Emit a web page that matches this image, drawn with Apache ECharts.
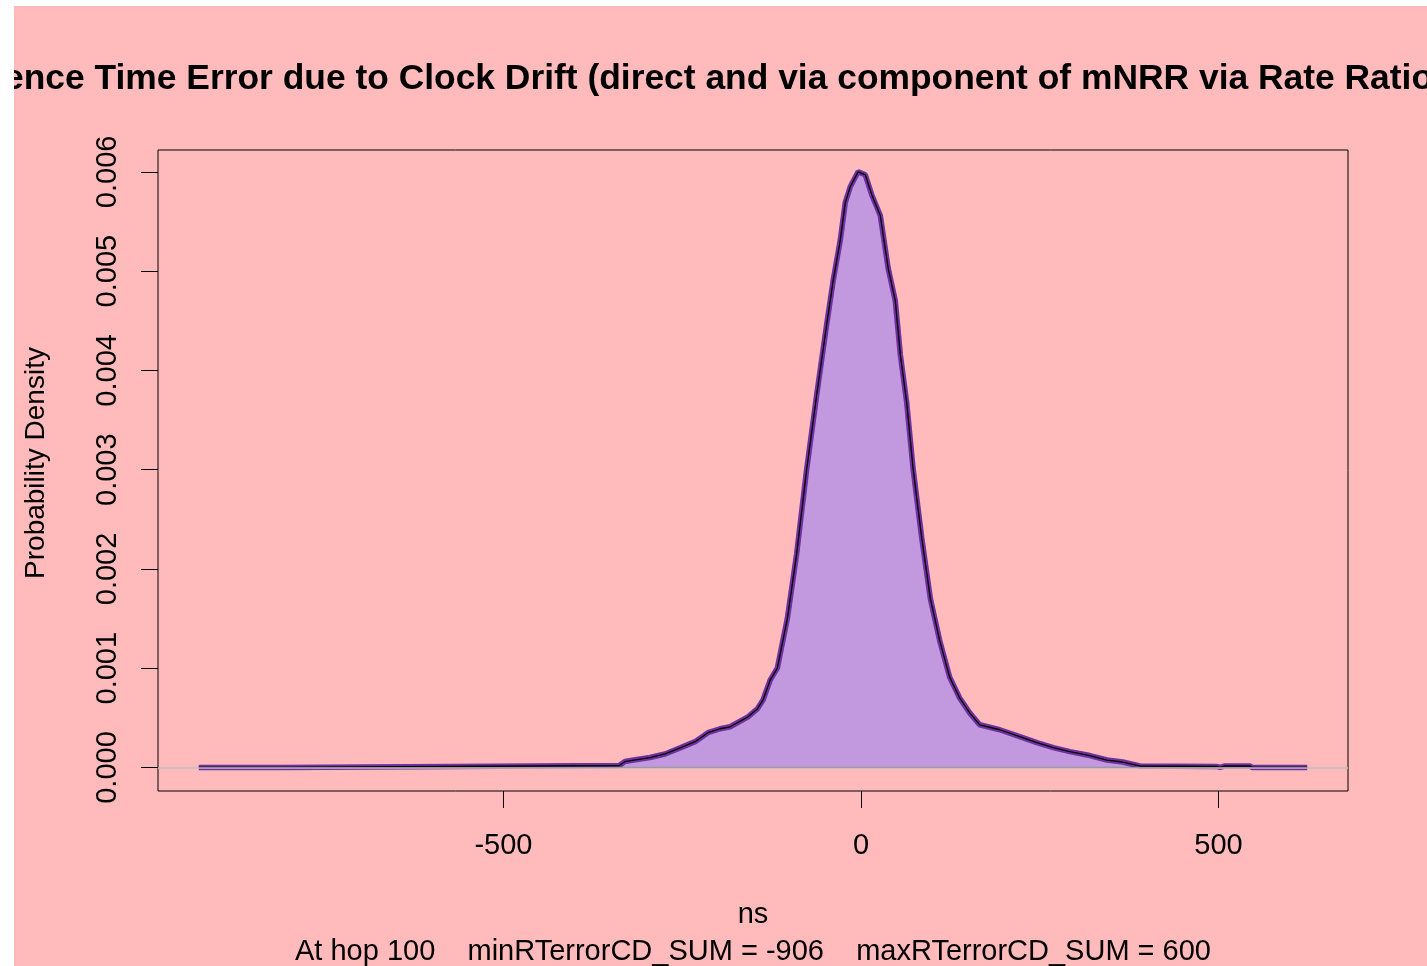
<!DOCTYPE html>
<html><head><meta charset="utf-8">
<script src="https://cdn.jsdelivr.net/npm/echarts@6/dist/echarts.min.js"></script>
<style>
html,body{margin:0;padding:0;background:#fff;width:1427px;height:966px;overflow:hidden}
#c{position:absolute;left:14px;top:6px;width:1413px;height:960px;background:#FFBBBB}
</style></head><body><div id="c"></div>
<script>
// ---- data ----
const ns = [-926, -808, -806, -338, -330, -318, -295, -274, -252, -232, -214, -197, -183, -158, -145, -137, -127, -117, -103, -90, -76, -62, -48, -39, -29, -22, -15, -4, 6, 15, 27, 38, 48, 55, 64, 73, 85, 97, 110, 124, 138, 152, 166, 194, 222, 246, 269, 292, 320, 344, 366, 390, 498, 502, 509, 544, 547, 624];
const density = [0.000000, 0.000000, 0.000015, 0.000020, 0.000060, 0.000075, 0.00010, 0.000136, 0.00020, 0.00026, 0.00035, 0.00039, 0.00041, 0.00051, 0.00059, 0.00068, 0.00088, 0.00100, 0.00150, 0.00215, 0.00300, 0.00375, 0.00446, 0.00490, 0.00531, 0.00569, 0.00585, 0.00600, 0.00597, 0.00577, 0.00556, 0.00503, 0.00470, 0.00416, 0.00367, 0.00300, 0.00231, 0.00170, 0.00128, 0.00091, 0.00070, 0.00055, 0.00043, 0.00038, 0.00031, 0.00025, 0.00020, 0.00016, 0.00012, 0.000075, 0.000055, 0.000015, 0.000010, 0.000000, 0.000015, 0.000015, 0.000000, 0.000000];
const xTicks = [-500, 0, 500];
const yTicks = [0, 0.001, 0.002, 0.003, 0.004, 0.005, 0.006];
const titleText = "ence Time Error due to Clock Drift (direct and via component of mNRR via Rate Ratio";
const xName = "ns";
const yName = "Probability Density";
const subText = "At hop 100    minRTerrorCD_SUM = -906    maxRTerrorCD_SUM = 600";

const curve = ns.map((x, i) => [x, density[i]]);
const base = [[ns[0], 0], [ns[ns.length - 1], 0]];
const FONT = '"Liberation Sans", Arial, sans-serif';

const chart = echarts.init(document.getElementById('c'), null, {renderer: 'canvas'});
chart.setOption({
  animation: false,
  backgroundColor: '#FFBBBB',
  grid: {left: 144, right: 79, top: 144, bottom: 175, show: true, borderColor: '#000', borderWidth: 1, backgroundColor: 'transparent'},
  xAxis: {
    type: 'value', min: -983, max: 681,
    axisLine: {show: false, onZero: false},
    splitLine: {show: false},
    axisTick: {show: true, length: 17, inside: false, customValues: xTicks, lineStyle: {color: '#000', width: 1}},
    axisLabel: {customValues: xTicks, fontSize: 29, fontFamily: FONT, color: '#000', margin: 40}
  },
  yAxis: {
    type: 'value', min: -0.000237, max: 0.00622,
    axisLine: {show: false, onZero: false},
    splitLine: {show: false},
    axisTick: {show: true, length: 17, inside: false, customValues: yTicks, lineStyle: {color: '#000', width: 1}},
    axisLabel: {customValues: yTicks, fontSize: 29, fontFamily: FONT, color: '#000', margin: 36, rotate: 90,
      formatter: v => v.toFixed(3)}
  },
  series: [
    {type: 'line', data: [], z: 1, silent: true,
      markLine: {silent: true, symbol: 'none', label: {show: false},
        lineStyle: {color: '#BEBEBE', width: 1.5, type: 'solid'}, data: [{yAxis: 0}]}},
    {type: 'line', data: curve, z: 2, symbol: 'none', smooth: false,
      lineStyle: {color: '#7030A0', width: 5.5}, areaStyle: {color: '#C299DF', opacity: 1}},
    {type: 'line', data: base, z: 3, symbol: 'none', lineStyle: {color: '#333', width: 1}},
    {type: 'line', data: curve, z: 4, symbol: 'none', smooth: false, lineStyle: {color: '#000', width: 1.3}}
  ],
  graphic: [
    {type: 'text', x: -10, y: 73.5, style: {text: titleText, font: 'bold 35.4px ' + FONT, fill: '#000', textAlign: 'left', textVerticalAlign: 'middle'}},
    {type: 'text', x: 739, y: 909, style: {text: xName, font: '29px ' + FONT, fill: '#000', textAlign: 'center', textVerticalAlign: 'middle'}},
    {type: 'text', x: 739, y: 946, style: {text: subText, font: '29px ' + FONT, fill: '#000', textAlign: 'center', textVerticalAlign: 'middle'}},
    {type: 'text', x: 22, y: 457, rotation: Math.PI / 2, style: {text: yName, font: '28px ' + FONT, fill: '#000', textAlign: 'center', textVerticalAlign: 'middle'}}
  ]
});
</script></body></html>
